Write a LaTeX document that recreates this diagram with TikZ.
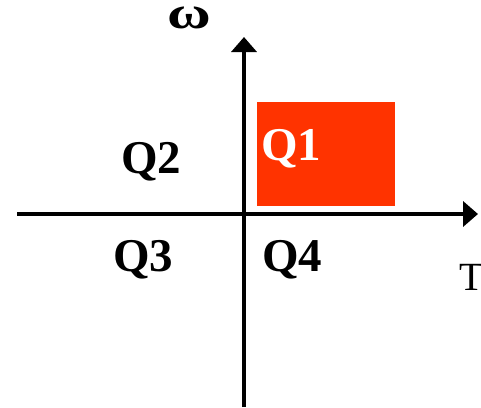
\documentclass[tikz,border=0pt]{standalone}
\usepackage{fontspec}
\setmainfont{Liberation Serif}
\usetikzlibrary{arrows.meta}
\definecolor{qred}{RGB}{255,51,0}
\begin{document}
\begin{tikzpicture}[x=1pt,y=-1pt,
  axis/.style={line width=4pt,-{Triangle[length=15pt,width=25pt]}},
  qlab/.style={inner sep=0pt,anchor=base west,font=\fontsize{47}{50}\selectfont\bfseries},
  axlab/.style={inner sep=0pt,anchor=base west,font=\fontsize{40}{44}\selectfont}]
\useasboundingbox (0,0) rectangle (481,407);
\fill[qred] (257,102) rectangle (395,206);
\coordinate (xs) at (17,214);
\coordinate (xe) at (478,214);
\coordinate (ys) at (244,407);
\coordinate (ye) at (244,37);
\draw[axis] (xs) -- (xe);
\draw[axis] (ys) -- (ye);
\node[qlab,text=white] (q1) at (261,160) {Q1};
\node[qlab] (q2) at (121,173) {Q2};
\node[qlab] (q3) at (113,271) {Q3};
\node[qlab] (q4) at (262,271) {Q4};
\node[axlab,text height=24pt,font=\fontsize{46}{50}\selectfont\bfseries] (w) at (167,28) {\scalebox{1.3}[1]{ω}};
\node[axlab] (t) at (459,290) {T};
\end{tikzpicture}
\end{document}
